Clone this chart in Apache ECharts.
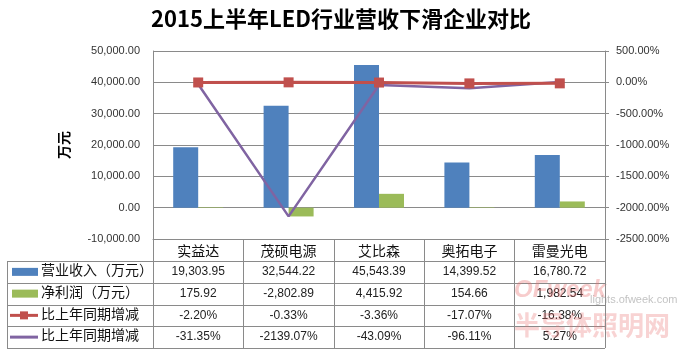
<!DOCTYPE html>
<html>
<head>
<meta charset="utf-8">
<script src="https://cdn.jsdelivr.net/npm/echarts@6/dist/echarts.min.js"></script>
<style>
  html, body { margin: 0; padding: 0; background: #fff; }
  #main { width: 682px; height: 352px; }
</style>
</head>
<body>
<div id="main"></div>
<script>
// data
const categories = ['实益达', '茂硕电源', '艾比森', '奥拓电子', '雷曼光电'];
const revenue = [19303.95, 32544.22, 45543.39, 14399.52, 16780.72];
const netProfit = [175.92, -2802.89, 4415.92, 154.66, 1982.54];
const revenueGrowth = [-2.20, -0.33, -3.36, -17.07, -16.38];
const profitGrowth = [-31.35, -2139.07, -43.09, -96.11, 5.27];
const seriesNames = ['营业收入（万元）', '净利润（万元）', '比上年同期增减', '比上年同期增减'];
const leftTicks = { min: -10000, max: 50000, interval: 10000 };
const rightTicks = { min: -2500, max: 500, interval: 500 };

const BLUE = '#4F81BD', GREEN = '#9BBB59', RED = '#C0504D', PURPLE = '#8064A2';
const GRID = { left: 153, right: 77, top: 51, bottom: 113 };
const W = 682, H = 352;
const plotL = GRID.left, plotR = W - GRID.right, plotB = H - GRID.bottom;
const colW = (plotR - plotL) / categories.length;
const rowTop = 261, rowH = 21.75, tableL = 7;
const lineCol = '#8a8a8a';
const numFont = '"Liberation Sans", Arial, sans-serif';
const cjkFont = '"Noto Sans CJK SC", sans-serif';

function fmtNum(v) {
  return v.toLocaleString('en-US', { minimumFractionDigits: 2, maximumFractionDigits: 2 });
}
function fmtPct(v) {
  return v.toFixed(2) + '%';
}

const rows = [
  { values: revenue.map(fmtNum), color: BLUE, kind: 'bar' },
  { values: netProfit.map(fmtNum), color: GREEN, kind: 'bar' },
  { values: revenueGrowth.map(fmtPct), color: RED, kind: 'mark' },
  { values: profitGrowth.map(fmtPct), color: PURPLE, kind: 'line' }
];

const graphic = [];
// horizontal table lines
for (let k = 0; k <= rows.length; k++) {
  const y = Math.round(rowTop + k * rowH) + 0.5;
  graphic.push({ type: 'line', shape: { x1: tableL, y1: y, x2: plotR, y2: y }, style: { stroke: lineCol, lineWidth: 1 }, silent: true });
}
graphic.push({ type: 'line', shape: { x1: tableL + 0.5, y1: rowTop, x2: tableL + 0.5, y2: rowTop + rows.length * rowH }, style: { stroke: lineCol, lineWidth: 1 } });

rows.forEach((r, k) => {
  const cy = rowTop + (k + 0.5) * rowH;
  if (r.kind === 'bar') {
    graphic.push({ type: 'rect', shape: { x: 12, y: cy - 4, width: 26, height: 8 }, style: { fill: r.color } });
  } else {
    graphic.push({ type: 'line', shape: { x1: 10, y1: cy, x2: 38, y2: cy }, style: { stroke: r.color, lineWidth: 3 } });
    if (r.kind === 'mark') {
      graphic.push({ type: 'rect', shape: { x: 20, y: cy - 4, width: 8, height: 8 }, style: { fill: r.color } });
    }
  }
  graphic.push({ type: 'text', left: 41, top: cy - 9, style: { text: seriesNames[k], font: '14px ' + cjkFont, fill: '#111' } });
  r.values.forEach((v, i) => {
    graphic.push({
      type: 'text', x: plotL + colW * (i + 0.5), y: cy,
      style: { text: v, font: '12px ' + numFont, fill: '#222', align: 'center', verticalAlign: 'middle' }
    });
  });
});

// watermark
graphic.push({ type: 'text', x: 514, y: 278, style: { text: 'OFweek', font: 'italic bold 24px ' + numFont, fill: 'rgba(232,110,110,0.35)' } });
graphic.push({ type: 'text', x: 590, y: 294, style: { text: 'lights.ofweek.com', font: '11px ' + numFont, fill: 'rgba(120,120,120,0.45)' } });
graphic.push({ type: 'text', x: 514, y: 312, style: { text: '半导体照明网', font: 'bold 26px ' + cjkFont, fill: 'rgba(232,110,110,0.30)' } });

const chart = echarts.init(document.getElementById('main'));
chart.setOption({
  animation: false,
  backgroundColor: '#fff',
  title: {
    text: '2015上半年LED行业营收下滑企业对比',
    left: 'center', top: 3,
    textStyle: { fontFamily: cjkFont, fontWeight: 'bold', fontSize: 22, color: '#000' }
  },
  grid: GRID,
  xAxis: {
    type: 'category',
    data: categories,
    axisLine: { onZero: false, lineStyle: { color: lineCol } },
    axisTick: { show: true, interval: 0, length: 109, lineStyle: { color: lineCol } },
    axisLabel: { interval: 0, margin: 5, fontFamily: cjkFont, fontSize: 14, color: '#111' }
  },
  yAxis: [
    {
      type: 'value', min: leftTicks.min, max: leftTicks.max, interval: leftTicks.interval,
      name: '万元', nameLocation: 'middle', nameGap: 82, nameRotate: 90,
      nameTextStyle: { fontFamily: cjkFont, fontSize: 14, fontWeight: 'bold', color: '#000' },
      axisLine: { show: true, lineStyle: { color: lineCol } },
      axisTick: { show: false },
      axisLabel: { margin: 13, fontFamily: numFont, fontSize: 11, color: '#333', formatter: v => fmtNum(v) },
      splitLine: { lineStyle: { color: lineCol } }
    },
    {
      type: 'value', min: rightTicks.min, max: rightTicks.max, interval: rightTicks.interval,
      position: 'right',
      axisLine: { show: true, lineStyle: { color: lineCol } },
      axisTick: { show: true, length: 4, lineStyle: { color: lineCol } },
      axisLabel: { margin: 11, fontFamily: numFont, fontSize: 11, color: '#333', formatter: v => fmtPct(v) },
      splitLine: { show: false }
    }
  ],
  series: [
    { name: seriesNames[0], type: 'bar', data: revenue, barWidth: 25, barGap: '0%', itemStyle: { color: BLUE } },
    { name: seriesNames[1], type: 'bar', data: netProfit, barWidth: 25, barGap: '0%', itemStyle: { color: GREEN } },
    { name: seriesNames[3], type: 'line', yAxisIndex: 1, data: profitGrowth, symbol: 'none',
      lineStyle: { color: PURPLE, width: 2.5 }, itemStyle: { color: PURPLE } },
    { name: seriesNames[2], type: 'line', yAxisIndex: 1, data: revenueGrowth, symbol: 'rect', symbolSize: 10,
      lineStyle: { color: RED, width: 3 }, itemStyle: { color: RED } }
  ],
  graphic: graphic
});
</script>
</body>
</html>
